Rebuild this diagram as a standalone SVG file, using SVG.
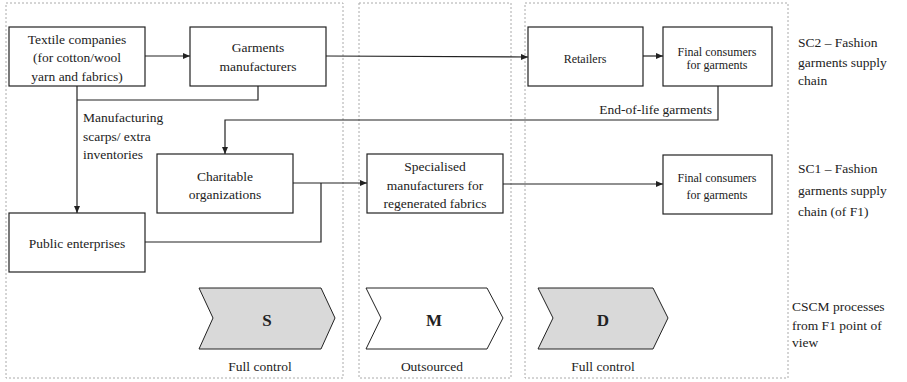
<svg xmlns="http://www.w3.org/2000/svg" width="907" height="382" viewBox="0 0 907 382">
<defs>
<marker id="ah" markerWidth="8" markerHeight="6" refX="7" refY="3" orient="auto" markerUnits="userSpaceOnUse">
<path d="M0,0 L7,3 L0,6 Z" fill="#222"/>
</marker>
</defs>
<style>
.panel{fill:none;stroke:#aaa;stroke-width:1;stroke-dasharray:2,2}
.box{fill:#fff;stroke:#222;stroke-width:1.2}
text{font-family:"Liberation Serif","Times New Roman","Liberation Sans",Arial,sans-serif;fill:#222}
.t{font-size:13.5px;text-anchor:middle}
.ts{font-size:12px;text-anchor:middle}
.tl{font-size:13.5px}
.tb{font-size:17px;font-weight:bold;text-anchor:middle}
.c{fill:none;stroke:#222;stroke-width:1.2}
.chev{stroke:#222;stroke-width:1}
</style>
<rect width="907" height="382" fill="#fff"/>
<g id="panels">
<rect class="panel" x="6" y="3" width="337" height="375"/>
<rect class="panel" x="359" y="3" width="152" height="375"/>
<rect class="panel" x="525" y="3" width="263" height="375"/>
</g>
<g id="connectors">
<line class="c" x1="145" y1="56" x2="190" y2="56" marker-end="url(#ah)"/>
<line class="c" x1="326" y1="56" x2="528" y2="57" marker-end="url(#ah)"/>
<line class="c" x1="643" y1="56" x2="663" y2="56" marker-end="url(#ah)"/>
<polyline class="c" points="718,86 718,120 225,120 225,154" marker-end="url(#ah)"/>
<line class="c" x1="77" y1="86" x2="77" y2="213" marker-end="url(#ah)"/>
<polyline class="c" points="258,86 258,100 77,100"/>
<line class="c" x1="293" y1="183" x2="367" y2="183" marker-end="url(#ah)"/>
<polyline class="c" points="145,242 321,242 321,183"/>
<line class="c" x1="503" y1="184" x2="663" y2="184" marker-end="url(#ah)"/>
</g>
<g id="textile">
<rect class="box" x="9" y="27" width="136" height="59"/>
<text class="t" x="77" y="44">Textile companies</text>
<text class="t" x="77" y="62">(for cotton/wool</text>
<text class="t" x="77" y="81">yarn and fabrics)</text>
</g>
<g id="garments">
<rect class="box" x="190" y="27" width="136" height="59"/>
<text class="t" x="258" y="52">Garments</text>
<text class="t" x="258" y="71">manufacturers</text>
</g>
<g id="retailers">
<rect class="box" x="528" y="27" width="115" height="59"/>
<text class="ts" x="585" y="63">Retailers</text>
</g>
<g id="final-sc2">
<rect class="box" x="663" y="27" width="109" height="59"/>
<text class="ts" x="717" y="56">Final consumers</text>
<text class="ts" x="717" y="69">for garments</text>
</g>
<g id="charitable">
<rect class="box" x="157" y="154" width="136" height="59"/>
<text class="t" x="225" y="181">Charitable</text>
<text class="t" x="225" y="199">organizations</text>
</g>
<g id="public">
<rect class="box" x="9" y="213" width="136" height="59"/>
<text class="t" x="77" y="248">Public enterprises</text>
</g>
<g id="specialised">
<rect class="box" x="367" y="154" width="136" height="59"/>
<text class="t" x="435" y="171">Specialised</text>
<text class="t" x="435" y="190">manufacturers for</text>
<text class="t" x="435" y="208">regenerated fabrics</text>
</g>
<g id="final-sc1">
<rect class="box" x="663" y="155" width="109" height="59"/>
<text class="ts" x="717" y="182">Final consumers</text>
<text class="ts" x="717" y="199">for garments</text>
</g>
<g id="labels">
<text class="tl" x="83" y="122">Manufacturing</text>
<text class="tl" x="83" y="141">scarps/ extra</text>
<text class="tl" x="83" y="159">inventories</text>
<text class="tl" x="712" y="114" text-anchor="end">End-of-life garments</text>
<text class="tl" x="798" y="47">SC2 – Fashion</text>
<text class="tl" x="798" y="67">garments supply</text>
<text class="tl" x="798" y="85">chain</text>
<text class="tl" x="798" y="173">SC1 – Fashion</text>
<text class="tl" x="798" y="195">garments supply</text>
<text class="tl" x="798" y="216">chain (of F1)</text>
<text class="tl" x="792" y="311">CSCM processes</text>
<text class="tl" x="792" y="330">from F1 point of</text>
<text class="tl" x="792" y="347">view</text>
</g>
<g id="chevron-s">
<polygon class="chev" fill="#d9d9d9" points="199,288 321,288 335,318 321,349 199,349 213,318"/>
<text class="tb" x="267" y="326">S</text>
<text class="t" x="260" y="371">Full control</text>
</g>
<g id="chevron-m">
<polygon class="chev" fill="#fff" points="366,288 487,288 503,318 487,349 366,349 381,318"/>
<text class="tb" x="434" y="326">M</text>
<text class="t" x="432" y="371">Outsourced</text>
</g>
<g id="chevron-d">
<polygon class="chev" fill="#d9d9d9" points="538,288 653,288 668,318 653,349 538,349 553,318"/>
<text class="tb" x="603" y="326">D</text>
<text class="t" x="603" y="371">Full control</text>
</g>
</svg>
